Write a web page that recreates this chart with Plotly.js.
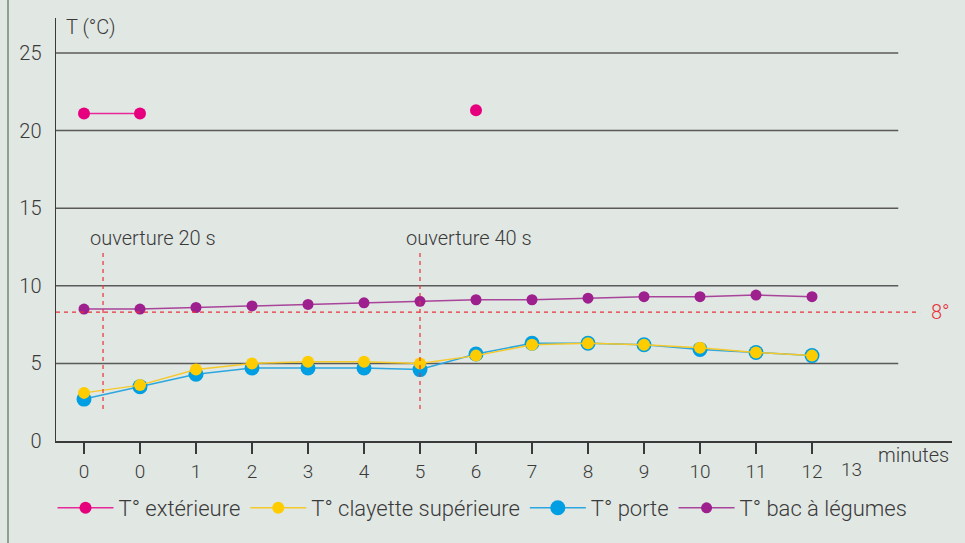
<!DOCTYPE html>
<html>
<head>
<meta charset="utf-8">
<script src="https://cdn.plot.ly/plotly-3.0.1.min.js"></script>
<style>
html,body{margin:0;padding:0;background:#e1e7e3;}
#chart{width:965px;height:543px;}
</style>
</head>
<body>
<div id="chart"></div>
<script>
// Categories (x axis tick labels, one per measurement)
const tickLabels = ["0","0","1","2","3","4","5","6","7","8","9","10","11","12"];
const extraTickLabel = "13";
// Series values (°C)
const tExterieure = [21.1, 21.1, null, null, null, null, null, 21.3, null, null, null, null, null, null];
const tClayette   = [3.1, 3.6, 4.6, 5.0, 5.1, 5.1, 5.0, 5.5, 6.2, 6.3, 6.2, 6.0, 5.7, 5.5];
const tPorte      = [2.7, 3.5, 4.3, 4.7, 4.7, 4.7, 4.6, 5.6, 6.3, 6.3, 6.2, 5.9, 5.7, 5.5];
const tBac        = [8.5, 8.5, 8.6, 8.7, 8.8, 8.9, 9.0, 9.1, 9.1, 9.2, 9.3, 9.3, 9.4, 9.3];
const seriesNames = ["T° extérieure", "T° clayette supérieure", "T° porte", "T° bac à légumes"];
const yTicks = [0, 5, 10, 15, 20, 25];
const threshold = 8.3;           // "8°" reference line
const thresholdLabel = "8°";
const openingX = [0.34, 6];      // door openings
const openingLabels = ["ouverture 20 s", "ouverture 40 s"];

const xIdx = tickLabels.map((_, i) => i);
const FONT = "Roboto, 'Open Sans', sans-serif";
const TXT = "#3a3a3a";

const traces = [
  {x: xIdx, y: tPorte, name: seriesNames[2], type: "scatter", mode: "lines+markers",
   line: {color: "#2ba6e0", width: 1.5}, marker: {color: "#009fe3", size: 15}, legendrank: 3},
  {x: xIdx, y: tClayette, name: seriesNames[1], type: "scatter", mode: "lines+markers",
   line: {color: "#f6c92a", width: 1.5}, marker: {color: "#ffcc00", size: 12}, legendrank: 2},
  {x: xIdx, y: tBac, name: seriesNames[3], type: "scatter", mode: "lines+markers",
   line: {color: "#a8449a", width: 1.5}, marker: {color: "#9e1f8e", size: 11}, legendrank: 4},
  {x: xIdx, y: tExterieure, name: seriesNames[0], type: "scatter", mode: "lines+markers",
   connectgaps: false,
   line: {color: "#e8289a", width: 1.5}, marker: {color: "#e6007e", size: 12}, legendrank: 1}
];

const gridEnd = 14.54;
const shapes = [];
yTicks.filter(v => v > 0).forEach(v => shapes.push({
  type: "line", xref: "x", yref: "y", x0: -0.5, x1: gridEnd, y0: v, y1: v,
  line: {color: "#5a5a5a", width: 1.5}, layer: "below"
}));
shapes.push({type: "line", xref: "x", yref: "y", x0: -0.5, x1: 14.93, y0: threshold, y1: threshold,
  line: {color: "#e8333a", width: 1.2, dash: "4px,4px"}});
openingX.forEach(x => shapes.push({type: "line", xref: "x", yref: "y", x0: x, x1: x, y0: 2.06, y1: 12.24,
  line: {color: "#e8333a", width: 1.2, dash: "4px,4px"}}));
// left border line
shapes.push({type: "line", xref: "paper", yref: "paper", x0: (8 - 56) / 896, x1: (8 - 56) / 896,
  y0: -102 / 423, y1: 1 + 18 / 423, line: {color: "#8fa092", width: 2}});

const annotations = [
  {xref: "paper", yref: "paper", x: 0.009, y: 0.979, xanchor: "left", yanchor: "middle",
   text: "T (°C)", showarrow: false, font: {family: FONT, size: 20, color: TXT, weight: 300}},
  {xref: "x", yref: "paper", x: 13.71, y: -0.0662, xanchor: "center", yanchor: "middle",
   text: extraTickLabel, showarrow: false, font: {family: FONT, size: 19, color: TXT, weight: 300}},
  {xref: "x", yref: "paper", x: 14.82, y: -0.033, xanchor: "center", yanchor: "middle",
   text: "minutes", showarrow: false, font: {family: FONT, size: 20, color: TXT, weight: 300}},
  {xref: "x", yref: "y", x: 15.3, y: threshold, xanchor: "center", yanchor: "middle",
   text: thresholdLabel, showarrow: false, font: {family: FONT, size: 20, color: "#e8333a", weight: 300}},
  {xref: "x", yref: "y", x: 0.07, y: 13.08, xanchor: "left", yanchor: "middle",
   text: openingLabels[0], showarrow: false, font: {family: FONT, size: 20, color: TXT, weight: 300}},
  {xref: "x", yref: "y", x: 5.71, y: 13.08, xanchor: "left", yanchor: "middle",
   text: openingLabels[1], showarrow: false, font: {family: FONT, size: 20, color: TXT, weight: 300}}
];

const layout = {
  width: 965, height: 543,
  margin: {l: 56, r: 13, t: 18, b: 102, pad: 0},
  paper_bgcolor: "#e1e7e3", plot_bgcolor: "#e1e7e3",
  font: {family: FONT, color: TXT, weight: 300},
  showlegend: true,
  legend: {orientation: "h", xref: "container", yref: "container", x: 0.5, xanchor: "center",
    y: 0.0645, yanchor: "middle", itemwidth: 56, font: {family: FONT, size: 22, color: TXT, weight: 300},
    bgcolor: "rgba(0,0,0,0)"},
  xaxis: {range: [-0.5, 15.5], tickvals: xIdx, ticktext: tickLabels, showgrid: false, zeroline: false,
    showline: true, linecolor: "#3a3a3a", linewidth: 1.5, ticks: "outside", ticklen: 11, tickwidth: 1.2,
    ticklabelstandoff: 2,
    tickcolor: "#3a3a3a", tickfont: {family: FONT, size: 19, color: TXT, weight: 300}, fixedrange: true},
  yaxis: {range: [0, 27.25], tickvals: yTicks, showgrid: false, zeroline: false,
    showline: true, linecolor: "#3a3a3a", linewidth: 1.5, ticks: "", ticklabelstandoff: 9,
    tickfont: {family: FONT, size: 20, color: TXT, weight: 300}, fixedrange: true},
  shapes: shapes,
  annotations: annotations,
  hovermode: false
};

Plotly.newPlot("chart", traces, layout, {displayModeBar: false, staticPlot: true});
</script>
</body>
</html>
